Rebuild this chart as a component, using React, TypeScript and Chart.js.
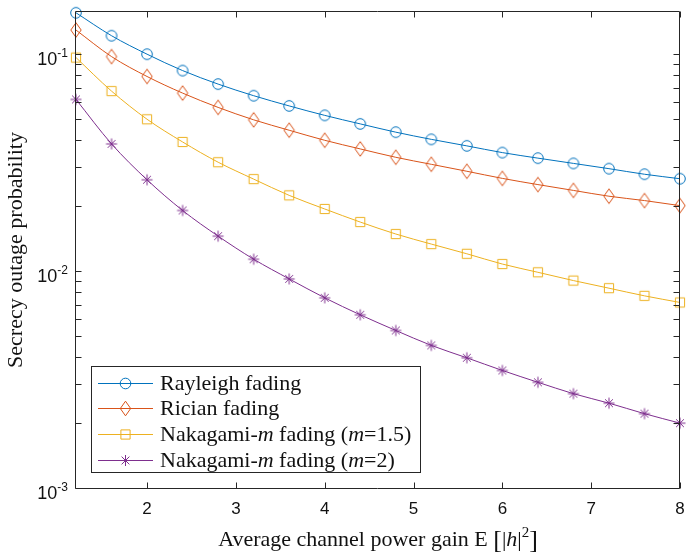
import React, { useEffect, useRef } from 'react';
import { Chart, registerables } from 'chart.js';

Chart.register(...registerables);

// ---- data ----
const xValues = [1.2, 1.6, 2.0, 2.4, 2.8, 3.2, 3.6, 4.0, 4.4, 4.8, 5.2, 5.6, 6.0, 6.4, 6.8, 7.2, 7.6, 8.0];
const rayleigh = [0.1547, 0.1213, 0.0997, 0.0838, 0.0726, 0.0642, 0.0576, 0.0521, 0.0476, 0.0436, 0.0404, 0.0377, 0.0351, 0.0331, 0.0313, 0.0296, 0.0279, 0.0266];
const rician = [0.1288, 0.0972, 0.0787, 0.066, 0.0567, 0.0497, 0.0445, 0.04, 0.0365, 0.0334, 0.031, 0.0288, 0.0267, 0.025, 0.0235, 0.0221, 0.0211, 0.02];
const nakagami15 = [0.0962, 0.0674, 0.05, 0.0393, 0.0317, 0.0265, 0.0223, 0.0193, 0.0168, 0.0148, 0.0133, 0.012, 0.01076, 0.00986, 0.00903, 0.00833, 0.00768, 0.00716];
const nakagami2 = [0.0617, 0.0385, 0.0263, 0.019, 0.01447, 0.01133, 0.00919, 0.00752, 0.00628, 0.00532, 0.00454, 0.00398, 0.00348, 0.00307, 0.00272, 0.00246, 0.0022, 0.00199];
const seriesLabels = ['Rayleigh fading', 'Rician fading', 'Nakagami-*m* fading (*m*=1.5)', 'Nakagami-*m* fading (*m*=2)'];
const seriesColors = ['#0072BD', '#D95319', '#EDB120', '#7E2F8E'];
const seriesMarkers = ['circle', 'diamond', 'square', 'star'];
const xTicks = [2, 3, 4, 5, 6, 7, 8];
const yDecades = [-3, -2, -1];
const xMin = 1.2;
const xMax = 8;
const yMin = 0.001;
const yMax = 0.156;
const xTitle = 'Average channel power gain E';
const yTitle = 'Secrecy outage probability';

const SERIF = '"Liberation Serif", "Times New Roman", serif';
const SANS = '"Liberation Sans", Arial, sans-serif';
const AXIS = '#262626';

function drawMarker(ctx: CanvasRenderingContext2D, style: string, x: number, y: number, color: string) {
  ctx.save();
  ctx.strokeStyle = color;
  ctx.lineWidth = 1;
  ctx.beginPath();
  if (style === 'circle') {
    ctx.arc(x, y, 5.3, 0, Math.PI * 2);
  } else if (style === 'diamond') {
    ctx.moveTo(x, y - 7.3);
    ctx.lineTo(x + 5.2, y);
    ctx.lineTo(x, y + 7.3);
    ctx.lineTo(x - 5.2, y);
    ctx.closePath();
  } else if (style === 'square') {
    ctx.rect(x - 4.6, y - 4.6, 9.2, 9.2);
  } else {
    const r = 5.5;
    const d = r * Math.SQRT1_2;
    ctx.moveTo(x, y - r); ctx.lineTo(x, y + r);
    ctx.moveTo(x - r, y); ctx.lineTo(x + r, y);
    ctx.moveTo(x - d, y - d); ctx.lineTo(x + d, y + d);
    ctx.moveTo(x - d, y + d); ctx.lineTo(x + d, y - d);
  }
  ctx.stroke();
  ctx.restore();
}

function markerCanvas(style: string, color: string) {
  const c = document.createElement('canvas');
  c.width = 20;
  c.height = 20;
  const cx = c.getContext('2d')!;
  drawMarker(cx, style, 10, 10, color);
  return c;
}

function drawRich(ctx: CanvasRenderingContext2D, text: string, x: number, y: number, size: number) {
  const parts = text.split('*');
  let cx = x;
  parts.forEach((p, i) => {
    if (!p) return;
    ctx.font = `${i % 2 === 1 ? 'italic ' : ''}${size}px ${SERIF}`;
    ctx.fillText(p, cx, y);
    cx += ctx.measureText(p).width;
  });
  return cx - x;
}

const decorPlugin = {
  id: 'decor',
  afterDraw(chart: any) {
    const ctx: CanvasRenderingContext2D = chart.ctx;
    const { left, right, top, bottom } = chart.chartArea;
    const xs = chart.scales.x;
    const ys = chart.scales.y;
    ctx.save();

    // box
    ctx.strokeStyle = AXIS;
    ctx.lineWidth = 1;
    const L = Math.round(left) - 0.5;
    const R = Math.round(right) - 0.5;
    const T = Math.round(top) - 0.5;
    const B = Math.round(bottom) + 0.5;
    ctx.beginPath();
    ctx.moveTo(L, T); ctx.lineTo(R, T); ctx.lineTo(R, B); ctx.lineTo(L, B); ctx.closePath();
    ctx.stroke();

    // ticks
    const tl = 6;
    ctx.beginPath();
    xTicks.forEach((v) => {
      const px = Math.round(xs.getPixelForValue(v)) + 0.5;
      ctx.moveTo(px, B); ctx.lineTo(px, B - tl);
      ctx.moveTo(px, T); ctx.lineTo(px, T + tl);
    });
    yDecades.forEach((d) => {
      for (let k = 1; k <= 9; k++) {
        const v = k * Math.pow(10, d);
        if (v < yMin - 1e-12 || v > yMax) continue;
        const py = Math.round(ys.getPixelForValue(v)) + 0.5;
        ctx.moveTo(L, py); ctx.lineTo(L + tl, py);
        ctx.moveTo(R, py); ctx.lineTo(R - tl, py);
      }
    });
    ctx.stroke();

    // x tick labels
    ctx.fillStyle = '#111';
    ctx.font = `17px ${SANS}`;
    ctx.textAlign = 'center';
    ctx.textBaseline = 'middle';
    xTicks.forEach((v) => {
      ctx.fillText(String(v), xs.getPixelForValue(v), B + 21);
    });

    // y tick labels 10^d
    ctx.textAlign = 'left';
    ctx.textBaseline = 'alphabetic';
    yDecades.forEach((d) => {
      const py = ys.getPixelForValue(Math.pow(10, d));
      const sup = String(d);
      ctx.font = `12px ${SANS}`;
      const wSup = ctx.measureText(sup).width;
      ctx.font = `18px ${SANS}`;
      const w10 = ctx.measureText('10').width;
      const xEnd = left - 8;
      ctx.fillText('10', xEnd - wSup - w10, py + 10.7);
      ctx.font = `12px ${SANS}`;
      ctx.fillText(sup, xEnd - wSup, py + 2.8);
    });

    // y title
    ctx.save();
    ctx.translate(22, (top + bottom) / 2);
    ctx.rotate(-Math.PI / 2);
    ctx.textAlign = 'center';
    ctx.font = `22px ${SERIF}`;
    ctx.fillText(yTitle, 0, 0);
    ctx.restore();

    // x title with math
    const segs = [
      { t: xTitle + ' ', f: `22px ${SERIF}`, dy: 0 },
      { t: '[', f: `26px ${SERIF}`, dy: 2 },
      { t: '|', f: `22px ${SERIF}`, dy: 0 },
      { t: 'h', f: `italic 22px ${SERIF}`, dy: 0 },
      { t: '|', f: `22px ${SERIF}`, dy: 0 },
      { t: '2', f: `15px ${SERIF}`, dy: -9 },
      { t: ']', f: `26px ${SERIF}`, dy: 2 },
    ];
    let total = 0;
    segs.forEach((s) => { ctx.font = s.f; total += ctx.measureText(s.t).width; });
    let cx = (left + right) / 2 - total / 2;
    ctx.textAlign = 'left';
    segs.forEach((s) => {
      ctx.font = s.f;
      ctx.fillText(s.t, cx, 546 + s.dy);
      cx += ctx.measureText(s.t).width;
    });

    // legend
    const bx = 91.5, by = 366.5, bw = 329, bh = 106;
    ctx.fillStyle = '#ffffff';
    ctx.fillRect(bx, by, bw, bh);
    ctx.strokeStyle = AXIS;
    ctx.strokeRect(bx, by, bw, bh);
    seriesLabels.forEach((lab, i) => {
      const ry = 382.7 + i * 25.7;
      ctx.strokeStyle = seriesColors[i];
      ctx.lineWidth = 1;
      ctx.beginPath();
      ctx.moveTo(98, Math.round(ry) + 0.5);
      ctx.lineTo(153, Math.round(ry) + 0.5);
      ctx.stroke();
      drawMarker(ctx, seriesMarkers[i], 125.5, Math.round(ry) + 0.5, seriesColors[i]);
      ctx.fillStyle = '#111';
      ctx.textBaseline = 'alphabetic';
      drawRich(ctx, lab, 160, ry + 6.8, 22);
    });

    ctx.restore();
  },
};

export default function App() {
  const ref = useRef<HTMLCanvasElement | null>(null);
  useEffect(() => {
    if (!ref.current) return;
    const all = [rayleigh, rician, nakagami15, nakagami2];
    const datasets = all.map((vals, i) => ({
      label: seriesLabels[i].replace(/\*/g, ''),
      data: xValues.map((x, j) => ({ x, y: vals[j] })),
      borderColor: seriesColors[i],
      backgroundColor: seriesColors[i],
      borderWidth: 1,
      pointStyle: markerCanvas(seriesMarkers[i], seriesColors[i]),
      pointRadius: 5,
      pointHoverRadius: 5,
      cubicInterpolationMode: 'monotone' as const,
      fill: false,
      clip: false as any,
    }));
    const chart = new Chart(ref.current, {
      type: 'line',
      data: { datasets },
      options: {
        responsive: false,
        animation: false,
        events: [],
        layout: { padding: { left: 0, right: 4, top: 12, bottom: 0 } },
        plugins: { legend: { display: false }, tooltip: { enabled: false } },
        scales: {
          x: {
            type: 'linear',
            min: xMin,
            max: xMax,
            grid: { display: false },
            border: { display: false },
            ticks: { display: false },
            afterFit: (s: any) => { s.height = 71; },
          },
          y: {
            type: 'logarithmic',
            min: yMin,
            max: yMax,
            grid: { display: false },
            border: { display: false },
            ticks: { display: false },
            afterFit: (s: any) => { s.width = 76; },
          },
        },
      },
      plugins: [decorPlugin],
    });
    return () => chart.destroy();
  }, []);
  return (
    <div style={{ position: 'absolute', left: 0, top: 0, width: 686, height: 559, background: '#fff' }}>
      <canvas ref={ref} width={686} height={559} style={{ display: 'block' }} />
    </div>
  );
}
